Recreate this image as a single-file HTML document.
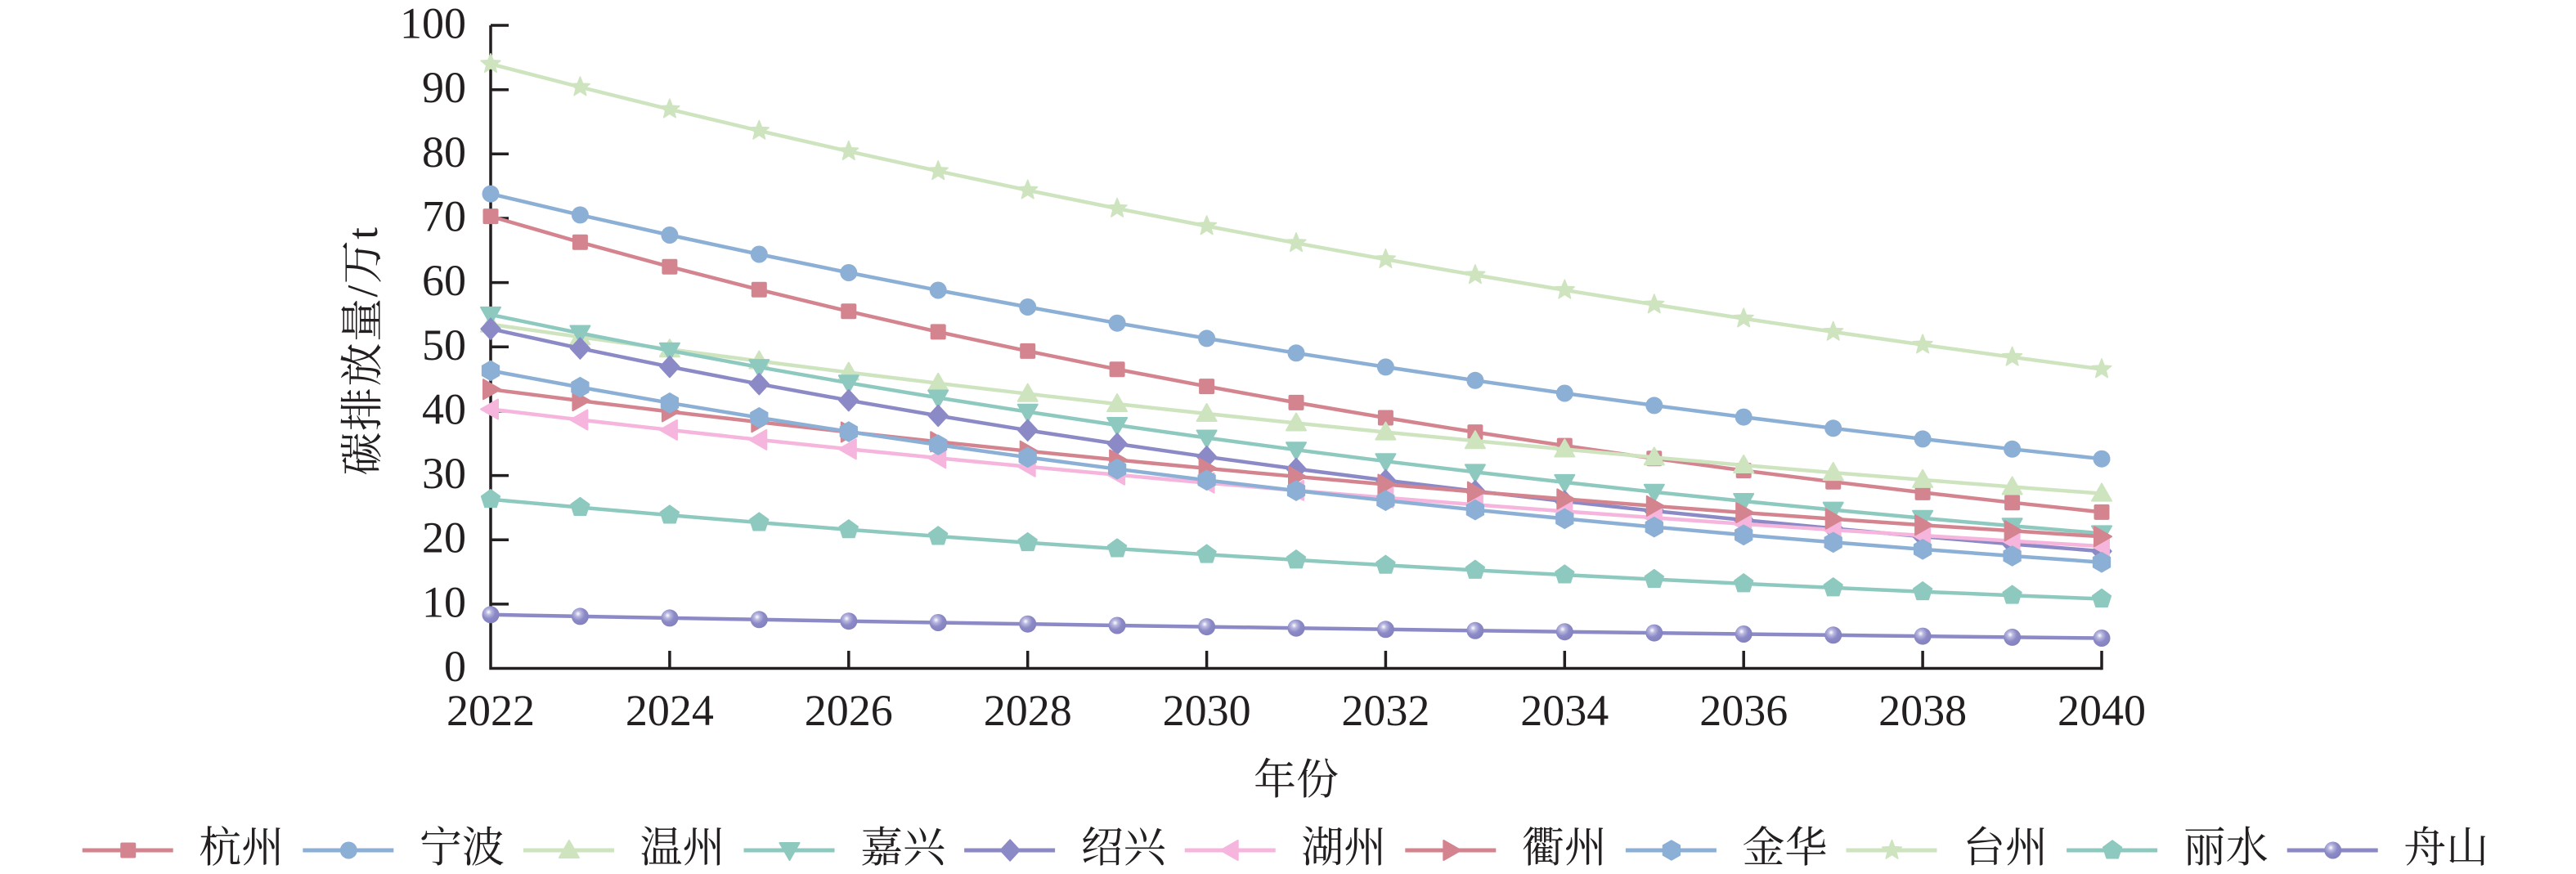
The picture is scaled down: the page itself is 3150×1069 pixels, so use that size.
<!DOCTYPE html>
<html><head><meta charset="utf-8"><style>
html,body{margin:0;padding:0;background:#fff;}
svg{display:block;}
.t{font-family:"Liberation Serif","Noto Serif CJK SC",serif;fill:#231f20;}
</style></head><body>
<svg width="3150" height="1069" viewBox="0 0 3150 1069" xmlns="http://www.w3.org/2000/svg">
<defs>
<radialGradient id="sph" cx="0.38" cy="0.35" r="0.65">
<stop offset="0" stop-color="#ffffff"/><stop offset="0.25" stop-color="#b9b8e0"/><stop offset="0.6" stop-color="#8c8ac6"/><stop offset="1" stop-color="#8481c0"/>
</radialGradient>
<rect id="mSq" x="-9.5" y="-9.5" width="19" height="19" rx="2" fill="#d4848e"/>
<circle id="mCiB" r="10.5" fill="#8cafd6"/>
<polygon id="mTu" points="0,-12 12,9 -12,9" fill="#cde4bf" stroke="#cde4bf" stroke-width="2" stroke-linejoin="round"/>
<polygon id="mTd" points="0,12 12,-9 -12,-9" fill="#8dc9bf" stroke="#8dc9bf" stroke-width="2" stroke-linejoin="round"/>
<polygon id="mDi" points="0,-13 12,0 0,13 -12,0" fill="#8c8ac6" stroke="#8c8ac6" stroke-width="1.5" stroke-linejoin="round"/>
<polygon id="mTl" points="-12,0 9,-12 9,12" fill="#f5b5dd" stroke="#f5b5dd" stroke-width="2" stroke-linejoin="round"/>
<polygon id="mTr" points="12,0 -9,-12 -9,12" fill="#d4848e" stroke="#d4848e" stroke-width="2" stroke-linejoin="round"/>
<polygon id="mHx" points="0,-12 10.4,-6 10.4,6 0,12 -10.4,6 -10.4,-6" fill="#8cafd6" stroke="#8cafd6" stroke-width="1.5" stroke-linejoin="round"/>
<polygon id="mSt" points="0,-12.5 3.2,-4.4 11.9,-3.9 5.2,1.7 7.3,10.1 0,5.4 -7.3,10.1 -5.2,1.7 -11.9,-3.9 -3.2,-4.4" fill="#cde4bf" stroke="#cde4bf" stroke-width="1.5" stroke-linejoin="round"/>
<polygon id="mPe" points="0,-12 11.4,-3.7 7.05,9.7 -7.05,9.7 -11.4,-3.7" fill="#8dc9bf" stroke="#8dc9bf" stroke-width="1.5" stroke-linejoin="round"/>
<circle id="mSp" r="10.5" fill="url(#sph)"/>
</defs>

<!-- y axis title -->
<text class="t" x="444" y="429" font-size="53" text-anchor="middle" dominant-baseline="central" letter-spacing="1.5" transform="rotate(-90 444 429)">碳排放量/万t</text>

<!-- y tick labels -->
<g class="t" font-size="54" text-anchor="end">
<text x="570" y="46.5">100</text>
<text x="570" y="125.2">90</text>
<text x="570" y="203.8">80</text>
<text x="570" y="282.5">70</text>
<text x="570" y="361.1">60</text>
<text x="570" y="439.8">50</text>
<text x="570" y="518.4">40</text>
<text x="570" y="597.1">30</text>
<text x="570" y="675.7">20</text>
<text x="570" y="754.4">10</text>
<text x="570" y="833">0</text>
</g>

<!-- x tick labels -->
<g class="t" font-size="54" text-anchor="middle">
<text x="600" y="887">2022</text>
<text x="818.9" y="887">2024</text>
<text x="1037.8" y="887">2026</text>
<text x="1256.7" y="887">2028</text>
<text x="1475.6" y="887">2030</text>
<text x="1694.4" y="887">2032</text>
<text x="1913.3" y="887">2034</text>
<text x="2132.2" y="887">2036</text>
<text x="2351.1" y="887">2038</text>
<text x="2570" y="887">2040</text>
</g>
<text class="t" x="1585" y="955" font-size="52" text-anchor="middle" dominant-baseline="central">年份</text>

<!-- axes -->
<g stroke="#231f20" stroke-width="3.5" fill="none">
<path d="M600,31 V819 M598.3,817.5 H2570"/>
<path d="M600,31 H622 M600,109.7 H622 M600,188.3 H622 M600,267 H622 M600,345.6 H622 M600,424.3 H622 M600,502.9 H622 M600,581.6 H622 M600,660.2 H622 M600,738.9 H622"/>
<path d="M818.9,817.5 V796 M1037.8,817.5 V796 M1256.7,817.5 V796 M1475.6,817.5 V796 M1694.4,817.5 V796 M1913.3,817.5 V796 M2132.2,817.5 V796 M2351.1,817.5 V796 M2570,819.2 V796"/>
</g>

<g fill="none" stroke-width="4.5" stroke-linejoin="round" stroke-linecap="round">
<!-- 杭州 -->
<polyline stroke="#d4848e" points="600,264.6 709.4,296.3 818.9,326.2 928.3,354.3 1037.8,380.8 1147.2,405.9 1256.7,429.4 1366.1,451.7 1475.6,472.6 1585,492.4 1694.4,511 1803.9,528.6 1913.3,545.1 2022.8,560.8 2132.2,575.5 2241.7,589.3 2351.1,602.4 2460.6,614.7 2570,626.4"/>
</g>
<g fill="#d4848e">
<use href="#mSq" x="600" y="264.6"/><use href="#mSq" x="709.4" y="296.3"/><use href="#mSq" x="818.9" y="326.2"/><use href="#mSq" x="928.3" y="354.3"/><use href="#mSq" x="1037.8" y="380.8"/><use href="#mSq" x="1147.2" y="405.9"/><use href="#mSq" x="1256.7" y="429.4"/><use href="#mSq" x="1366.1" y="451.7"/><use href="#mSq" x="1475.6" y="472.6"/><use href="#mSq" x="1585" y="492.4"/><use href="#mSq" x="1694.4" y="511"/><use href="#mSq" x="1803.9" y="528.6"/><use href="#mSq" x="1913.3" y="545.1"/><use href="#mSq" x="2022.8" y="560.8"/><use href="#mSq" x="2132.2" y="575.5"/><use href="#mSq" x="2241.7" y="589.3"/><use href="#mSq" x="2351.1" y="602.4"/><use href="#mSq" x="2460.6" y="614.7"/><use href="#mSq" x="2570" y="626.4"/>
</g>

<!-- 宁波 -->
<polyline fill="none" stroke-width="4.5" stroke-linejoin="round" stroke="#8cafd6" points="600,237.1 709.4,262.9 818.9,287.5 928.3,311 1037.8,333.5 1147.2,355 1256.7,375.5 1366.1,395.2 1475.6,413.9 1585,431.8 1694.4,448.9 1803.9,465.3 1913.3,481 2022.8,495.9 2132.2,510.1 2241.7,523.8 2351.1,536.9 2460.6,549.3 2570,561.2"/>
<g>
<use href="#mCiB" x="600" y="237.1"/><use href="#mCiB" x="709.4" y="262.9"/><use href="#mCiB" x="818.9" y="287.5"/><use href="#mCiB" x="928.3" y="311"/><use href="#mCiB" x="1037.8" y="333.5"/><use href="#mCiB" x="1147.2" y="355"/><use href="#mCiB" x="1256.7" y="375.5"/><use href="#mCiB" x="1366.1" y="395.2"/><use href="#mCiB" x="1475.6" y="413.9"/><use href="#mCiB" x="1585" y="431.8"/><use href="#mCiB" x="1694.4" y="448.9"/><use href="#mCiB" x="1803.9" y="465.3"/><use href="#mCiB" x="1913.3" y="481"/><use href="#mCiB" x="2022.8" y="495.9"/><use href="#mCiB" x="2132.2" y="510.1"/><use href="#mCiB" x="2241.7" y="523.8"/><use href="#mCiB" x="2351.1" y="536.9"/><use href="#mCiB" x="2460.6" y="549.3"/><use href="#mCiB" x="2570" y="561.2"/>
</g>

<!-- 温州 -->
<polyline fill="none" stroke-width="4.5" stroke-linejoin="round" stroke="#cde4bf" points="600,396.7 709.4,412.2 818.9,427.2 928.3,441.6 1037.8,455.5 1147.2,468.8 1256.7,481.7 1366.1,494.1 1475.6,506 1585,517.5 1694.4,528.6 1803.9,539.2 1913.3,549.5 2022.8,559.4 2132.2,569 2241.7,578.1 2351.1,586.9 2460.6,595.5 2570,603.6"/>
<g>
<use href="#mTu" x="600" y="396.7"/><use href="#mTu" x="709.4" y="412.2"/><use href="#mTu" x="818.9" y="427.2"/><use href="#mTu" x="928.3" y="441.6"/><use href="#mTu" x="1037.8" y="455.5"/><use href="#mTu" x="1147.2" y="468.8"/><use href="#mTu" x="1256.7" y="481.7"/><use href="#mTu" x="1366.1" y="494.1"/><use href="#mTu" x="1475.6" y="506"/><use href="#mTu" x="1585" y="517.5"/><use href="#mTu" x="1694.4" y="528.6"/><use href="#mTu" x="1803.9" y="539.2"/><use href="#mTu" x="1913.3" y="549.5"/><use href="#mTu" x="2022.8" y="559.4"/><use href="#mTu" x="2132.2" y="569"/><use href="#mTu" x="2241.7" y="578.1"/><use href="#mTu" x="2351.1" y="586.9"/><use href="#mTu" x="2460.6" y="595.5"/><use href="#mTu" x="2570" y="603.6"/>
</g>

<!-- 嘉兴 -->
<polyline fill="none" stroke-width="4.5" stroke-linejoin="round" stroke="#8dc9bf" points="600,384.9 709.4,407.5 818.9,428.8 928.3,449.1 1037.8,468.3 1147.2,486.5 1256.7,503.7 1366.1,520 1475.6,535.5 1585,550.2 1694.4,564.2 1803.9,577.4 1913.3,589.9 2022.8,601.8 2132.2,613 2241.7,623.6 2351.1,633.8 2460.6,643.3 2570,652.4"/>
<g>
<use href="#mTd" x="600" y="384.9"/><use href="#mTd" x="709.4" y="407.5"/><use href="#mTd" x="818.9" y="428.8"/><use href="#mTd" x="928.3" y="449.1"/><use href="#mTd" x="1037.8" y="468.3"/><use href="#mTd" x="1147.2" y="486.5"/><use href="#mTd" x="1256.7" y="503.7"/><use href="#mTd" x="1366.1" y="520"/><use href="#mTd" x="1475.6" y="535.5"/><use href="#mTd" x="1585" y="550.2"/><use href="#mTd" x="1694.4" y="564.2"/><use href="#mTd" x="1803.9" y="577.4"/><use href="#mTd" x="1913.3" y="589.9"/><use href="#mTd" x="2022.8" y="601.8"/><use href="#mTd" x="2132.2" y="613"/><use href="#mTd" x="2241.7" y="623.6"/><use href="#mTd" x="2351.1" y="633.8"/><use href="#mTd" x="2460.6" y="643.3"/><use href="#mTd" x="2570" y="652.4"/>
</g>

<!-- 绍兴 -->
<polyline fill="none" stroke-width="4.5" stroke-linejoin="round" stroke="#8c8ac6" points="600,402.2 709.4,426.1 818.9,448.6 928.3,469.7 1037.8,489.7 1147.2,508.5 1256.7,526.3 1366.1,542.9 1475.6,558.7 1585,573.5 1694.4,587.5 1803.9,600.7 1913.3,613.2 2022.8,625 2132.2,636 2241.7,646.4 2351.1,656.2 2460.6,665.5 2570,674.2"/>
<g>
<use href="#mDi" x="600" y="402.2"/><use href="#mDi" x="709.4" y="426.1"/><use href="#mDi" x="818.9" y="448.6"/><use href="#mDi" x="928.3" y="469.7"/><use href="#mDi" x="1037.8" y="489.7"/><use href="#mDi" x="1147.2" y="508.5"/><use href="#mDi" x="1256.7" y="526.3"/><use href="#mDi" x="1366.1" y="542.9"/><use href="#mDi" x="1475.6" y="558.7"/><use href="#mDi" x="1585" y="573.5"/><use href="#mDi" x="1694.4" y="587.5"/><use href="#mDi" x="1803.9" y="600.7"/><use href="#mDi" x="1913.3" y="613.2"/><use href="#mDi" x="2022.8" y="625"/><use href="#mDi" x="2132.2" y="636"/><use href="#mDi" x="2241.7" y="646.4"/><use href="#mDi" x="2351.1" y="656.2"/><use href="#mDi" x="2460.6" y="665.5"/><use href="#mDi" x="2570" y="674.2"/>
</g>

<!-- 湖州 -->
<polyline fill="none" stroke-width="4.5" stroke-linejoin="round" stroke="#f5b5dd" points="600,500.5 709.4,513.5 818.9,525.9 928.3,537.9 1037.8,549.3 1147.2,560.2 1256.7,570.8 1366.1,580.8 1475.6,590.6 1585,599.9 1694.4,608.8 1803.9,617.3 1913.3,625.4 2022.8,633.3 2132.2,640.9 2241.7,648.1 2351.1,655 2460.6,661.7 2570,668.1"/>
<g>
<use href="#mTl" x="600" y="500.5"/><use href="#mTl" x="709.4" y="513.5"/><use href="#mTl" x="818.9" y="525.9"/><use href="#mTl" x="928.3" y="537.9"/><use href="#mTl" x="1037.8" y="549.3"/><use href="#mTl" x="1147.2" y="560.2"/><use href="#mTl" x="1256.7" y="570.8"/><use href="#mTl" x="1366.1" y="580.8"/><use href="#mTl" x="1475.6" y="590.6"/><use href="#mTl" x="1585" y="599.9"/><use href="#mTl" x="1694.4" y="608.8"/><use href="#mTl" x="1803.9" y="617.3"/><use href="#mTl" x="1913.3" y="625.4"/><use href="#mTl" x="2022.8" y="633.3"/><use href="#mTl" x="2132.2" y="640.9"/><use href="#mTl" x="2241.7" y="648.1"/><use href="#mTl" x="2351.1" y="655"/><use href="#mTl" x="2460.6" y="661.7"/><use href="#mTl" x="2570" y="668.1"/>
</g>

<!-- 衢州 -->
<polyline fill="none" stroke-width="4.5" stroke-linejoin="round" stroke="#d4848e" points="600,476.2 709.4,490.1 818.9,503.5 928.3,516.3 1037.8,528.5 1147.2,540.3 1256.7,551.7 1366.1,562.5 1475.6,572.9 1585,582.9 1694.4,592.5 1803.9,601.6 1913.3,610.4 2022.8,618.9 2132.2,627 2241.7,634.8 2351.1,642.2 2460.6,649.3 2570,656.3"/>
<g>
<use href="#mTr" x="600" y="476.2"/><use href="#mTr" x="709.4" y="490.1"/><use href="#mTr" x="818.9" y="503.5"/><use href="#mTr" x="928.3" y="516.3"/><use href="#mTr" x="1037.8" y="528.5"/><use href="#mTr" x="1147.2" y="540.3"/><use href="#mTr" x="1256.7" y="551.7"/><use href="#mTr" x="1366.1" y="562.5"/><use href="#mTr" x="1475.6" y="572.9"/><use href="#mTr" x="1585" y="582.9"/><use href="#mTr" x="1694.4" y="592.5"/><use href="#mTr" x="1803.9" y="601.6"/><use href="#mTr" x="1913.3" y="610.4"/><use href="#mTr" x="2022.8" y="618.9"/><use href="#mTr" x="2132.2" y="627"/><use href="#mTr" x="2241.7" y="634.8"/><use href="#mTr" x="2351.1" y="642.2"/><use href="#mTr" x="2460.6" y="649.3"/><use href="#mTr" x="2570" y="656.3"/>
</g>

<!-- 金华 -->
<polyline fill="none" stroke-width="4.5" stroke-linejoin="round" stroke="#8cafd6" points="600,453.4 709.4,473.6 818.9,492.8 928.3,510.8 1037.8,528 1147.2,544.1 1256.7,559.3 1366.1,573.7 1475.6,587.3 1585,600.1 1694.4,612.2 1803.9,623.6 1913.3,634.4 2022.8,644.6 2132.2,654.3 2241.7,663.3 2351.1,671.9 2460.6,680 2570,687.7"/>
<g>
<use href="#mHx" x="600" y="453.4"/><use href="#mHx" x="709.4" y="473.6"/><use href="#mHx" x="818.9" y="492.8"/><use href="#mHx" x="928.3" y="510.8"/><use href="#mHx" x="1037.8" y="528"/><use href="#mHx" x="1147.2" y="544.1"/><use href="#mHx" x="1256.7" y="559.3"/><use href="#mHx" x="1366.1" y="573.7"/><use href="#mHx" x="1475.6" y="587.3"/><use href="#mHx" x="1585" y="600.1"/><use href="#mHx" x="1694.4" y="612.2"/><use href="#mHx" x="1803.9" y="623.6"/><use href="#mHx" x="1913.3" y="634.4"/><use href="#mHx" x="2022.8" y="644.6"/><use href="#mHx" x="2132.2" y="654.3"/><use href="#mHx" x="2241.7" y="663.3"/><use href="#mHx" x="2351.1" y="671.9"/><use href="#mHx" x="2460.6" y="680"/><use href="#mHx" x="2570" y="687.7"/>
</g>

<!-- 台州 -->
<polyline fill="none" stroke-width="4.5" stroke-linejoin="round" stroke="#cde4bf" points="600,78.2 709.4,106.5 818.9,133.7 928.3,159.9 1037.8,185.1 1147.2,209.3 1256.7,232.7 1366.1,255 1475.6,276.5 1585,297.3 1694.4,317.2 1803.9,336.4 1913.3,354.8 2022.8,372.5 2132.2,389.6 2241.7,405.9 2351.1,421.7 2460.6,436.8 2570,451.5"/>
<g>
<use href="#mSt" x="600" y="78.2"/><use href="#mSt" x="709.4" y="106.5"/><use href="#mSt" x="818.9" y="133.7"/><use href="#mSt" x="928.3" y="159.9"/><use href="#mSt" x="1037.8" y="185.1"/><use href="#mSt" x="1147.2" y="209.3"/><use href="#mSt" x="1256.7" y="232.7"/><use href="#mSt" x="1366.1" y="255"/><use href="#mSt" x="1475.6" y="276.5"/><use href="#mSt" x="1585" y="297.3"/><use href="#mSt" x="1694.4" y="317.2"/><use href="#mSt" x="1803.9" y="336.4"/><use href="#mSt" x="1913.3" y="354.8"/><use href="#mSt" x="2022.8" y="372.5"/><use href="#mSt" x="2132.2" y="389.6"/><use href="#mSt" x="2241.7" y="405.9"/><use href="#mSt" x="2351.1" y="421.7"/><use href="#mSt" x="2460.6" y="436.8"/><use href="#mSt" x="2570" y="451.5"/>
</g>

<!-- 丽水 -->
<polyline fill="none" stroke-width="4.5" stroke-linejoin="round" stroke="#8dc9bf" points="600,610.7 709.4,620.6 818.9,630.1 928.3,639.1 1037.8,647.8 1147.2,656 1256.7,663.7 1366.1,671.1 1475.6,678.2 1585,684.9 1694.4,691.3 1803.9,697.4 1913.3,703.1 2022.8,708.6 2132.2,713.9 2241.7,718.9 2351.1,723.7 2460.6,728.2 2570,732.5"/>
<g>
<use href="#mPe" x="600" y="610.7"/><use href="#mPe" x="709.4" y="620.6"/><use href="#mPe" x="818.9" y="630.1"/><use href="#mPe" x="928.3" y="639.1"/><use href="#mPe" x="1037.8" y="647.8"/><use href="#mPe" x="1147.2" y="656"/><use href="#mPe" x="1256.7" y="663.7"/><use href="#mPe" x="1366.1" y="671.1"/><use href="#mPe" x="1475.6" y="678.2"/><use href="#mPe" x="1585" y="684.9"/><use href="#mPe" x="1694.4" y="691.3"/><use href="#mPe" x="1803.9" y="697.4"/><use href="#mPe" x="1913.3" y="703.1"/><use href="#mPe" x="2022.8" y="708.6"/><use href="#mPe" x="2132.2" y="713.9"/><use href="#mPe" x="2241.7" y="718.9"/><use href="#mPe" x="2351.1" y="723.7"/><use href="#mPe" x="2460.6" y="728.2"/><use href="#mPe" x="2570" y="732.5"/>
</g>

<!-- 舟山 -->
<polyline fill="none" stroke-width="4.5" stroke-linejoin="round" stroke="#8c8ac6" points="600,751.8 709.4,753.9 818.9,755.9 928.3,757.8 1037.8,759.7 1147.2,761.5 1256.7,763.2 1366.1,765 1475.6,766.6 1585,768.2 1694.4,769.8 1803.9,771.3 1913.3,772.7 2022.8,774.1 2132.2,775.5 2241.7,776.8 2351.1,778.1 2460.6,779.4 2570,780.5"/>
<g>
<use href="#mSp" x="600" y="751.8"/><use href="#mSp" x="709.4" y="753.9"/><use href="#mSp" x="818.9" y="755.9"/><use href="#mSp" x="928.3" y="757.8"/><use href="#mSp" x="1037.8" y="759.7"/><use href="#mSp" x="1147.2" y="761.5"/><use href="#mSp" x="1256.7" y="763.2"/><use href="#mSp" x="1366.1" y="765"/><use href="#mSp" x="1475.6" y="766.6"/><use href="#mSp" x="1585" y="768.2"/><use href="#mSp" x="1694.4" y="769.8"/><use href="#mSp" x="1803.9" y="771.3"/><use href="#mSp" x="1913.3" y="772.7"/><use href="#mSp" x="2022.8" y="774.1"/><use href="#mSp" x="2132.2" y="775.5"/><use href="#mSp" x="2241.7" y="776.8"/><use href="#mSp" x="2351.1" y="778.1"/><use href="#mSp" x="2460.6" y="779.4"/><use href="#mSp" x="2570" y="780.5"/>
</g>

<!-- legend -->
<g stroke-width="5" fill="none">
<path stroke="#d4848e" d="M100.7,1040 h111"/>
<path stroke="#8cafd6" d="M370.3,1040 h111"/>
<path stroke="#cde4bf" d="M639.9,1040 h111"/>
<path stroke="#8dc9bf" d="M909.5,1040 h111"/>
<path stroke="#8c8ac6" d="M1179.1,1040 h111"/>
<path stroke="#f5b5dd" d="M1448.7,1040 h111"/>
<path stroke="#d4848e" d="M1718.3,1040 h111"/>
<path stroke="#8cafd6" d="M1987.9,1040 h111"/>
<path stroke="#cde4bf" d="M2257.5,1040 h111"/>
<path stroke="#8dc9bf" d="M2527.1,1040 h111"/>
<path stroke="#8c8ac6" d="M2796.7,1040 h111"/>
</g>
<use href="#mSq" x="156.7" y="1040"/>
<use href="#mCiB" x="426.3" y="1040"/>
<use href="#mTu" x="695.9" y="1040"/>
<use href="#mTd" x="965.5" y="1040"/>
<use href="#mDi" x="1235.1" y="1040"/>
<use href="#mTl" x="1504.7" y="1040"/>
<use href="#mTr" x="1774.3" y="1040"/>
<use href="#mHx" x="2043.9" y="1040"/>
<use href="#mSt" x="2313.5" y="1040"/>
<use href="#mPe" x="2583.1" y="1040"/>
<use href="#mSp" x="2852.7" y="1040"/>
<g class="t" font-size="52" dominant-baseline="central">
<text x="243.3" y="1038">杭州</text>
<text x="512.9" y="1038">宁波</text>
<text x="782.5" y="1038">温州</text>
<text x="1052.1" y="1038">嘉兴</text>
<text x="1321.7" y="1038">绍兴</text>
<text x="1591.3" y="1038">湖州</text>
<text x="1860.9" y="1038">衢州</text>
<text x="2130.5" y="1038">金华</text>
<text x="2400.1" y="1038">台州</text>
<text x="2669.7" y="1038">丽水</text>
<text x="2939.3" y="1038">舟山</text>
</g>
</svg>
</body></html>
